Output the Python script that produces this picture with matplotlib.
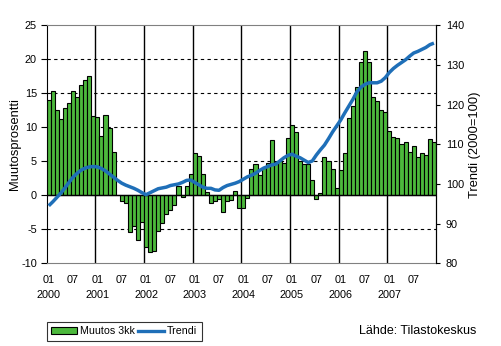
import matplotlib
matplotlib.use('Agg')
import matplotlib.pyplot as plt
from matplotlib.patches import Patch
from matplotlib.lines import Line2D

plt.rcParams['font.family'] = ['Liberation Sans', 'DejaVu Sans']
plt.rcParams['axes.unicode_minus'] = False

years = ['2000', '2001', '2002', '2003', '2004', '2005', '2006', '2007']

# 3 kk muutos, % (monthly, 2000-01 .. 2007-12)
muutos = [
    14.0, 15.4, 12.5, 11.2, 12.8, 13.6, 15.3, 14.4, 16.2, 16.9, 17.5, 11.7,
    11.5, 8.7, 11.8, 9.9, 6.3, 0.1, -0.9, -1.2, -5.4, -4.5, -6.5, -4.0,
    -7.6, -8.4, -8.2, -5.2, -4.1, -2.8, -2.2, -1.5, 1.4, -0.2, 1.4, 3.2,
    6.2, 5.8, 3.1, 0.5, -1.2, -0.8, -0.6, -2.4, -0.8, -0.7, 0.7, -1.9,
    -1.8, -0.4, 3.8, 4.6, 3.0, 4.0, 4.7, 8.1, 4.9, 5.0, 4.8, 8.4,
    10.4, 9.3, 5.0, 4.6, 4.6, 2.2, -0.6, 0.4, 5.6, 5.0, 3.8, 1.0,
    3.7, 6.2, 11.3, 13.2, 15.9, 19.6, 21.2, 19.6, 14.4, 13.8, 12.5, 12.2,
    9.4, 8.5, 8.4, 7.6, 7.9, 6.3, 7.2, 5.7, 6.2, 5.9, 8.3, 7.8,
]

# trendi, 2000=100
trendi = [
    94.5, 95.5, 96.6, 97.7, 99.0, 100.4, 101.7, 102.7, 103.5, 104.0, 104.3, 104.4,
    104.3, 103.9, 103.3, 102.5, 101.7, 100.9, 100.2, 99.7, 99.3, 98.9, 98.4, 97.8,
    97.3, 97.8, 98.3, 98.8, 99.0, 99.2, 99.6, 99.8, 100.0, 100.4, 100.9, 101.0,
    100.4, 99.8, 99.2, 98.9, 98.9, 98.5, 98.4, 99.1, 99.6, 99.9, 100.2, 100.6,
    101.2, 101.8, 102.2, 102.7, 103.4, 104.0, 104.4, 104.8, 105.0, 105.8, 106.6, 107.2,
    107.5, 107.0, 106.6, 106.0, 105.4, 105.8, 107.3, 108.6, 109.8, 111.4, 113.1, 114.6,
    116.1, 117.9, 119.6, 121.3, 123.2, 124.4, 125.1, 125.5, 125.5, 125.5, 125.9, 126.8,
    128.1, 129.1, 129.9, 130.6, 131.3, 132.2, 133.0, 133.4, 133.9, 134.4, 135.1, 135.5,
]

green = '#4cb83c'
blue = '#1f6fb8'

fig = plt.figure(figsize=(5.01, 3.46), dpi=100)
ax = fig.add_axes([0.0932, 0.239, 0.7770, 0.688])

n = len(muutos)
x = [i + 0.5 for i in range(n)]
ax.bar(x, muutos, width=1.0, color=green, edgecolor='black', linewidth=0.8, zorder=2)
ax.set_xlim(0, n)
ax.set_ylim(-10, 25)

for v in [-5, 5, 10, 15, 20]:
    ax.axhline(v, color='black', lw=0.8, ls=(0, (3, 3)), zorder=1)
ax.axhline(0, color='black', lw=1.0, zorder=3)
for k in range(1, len(years)):
    ax.axvline(12 * k, color='black', lw=1.0, zorder=1)

for s in ['top', 'bottom']:
    ax.spines[s].set_color('#808080')
ax.spines['left'].set_color('black')

ax.set_yticks(range(-10, 26, 5))
ax.tick_params(axis='y', direction='out', length=4, width=0.8, labelsize=7.8, pad=3)

xt, xl = [], []
for k, yr in enumerate(years):
    xt += [12 * k + 0.5, 12 * k + 6.5]
    xl += ['01\n' + yr, '07']
ax.set_xticks(xt)
ax.set_xticklabels(xl)
ax.tick_params(axis='x', length=0, pad=8.5, labelsize=7.8)
for lbl in ax.get_xticklabels():
    lbl.set_linespacing(1.6)

ax.set_ylabel('Muutosprosentti', fontsize=9.3)
ax.yaxis.set_label_coords(-0.065, 0.5)

ax2 = ax.twinx()
ax2.plot(x, trendi, color=blue, lw=2.5, solid_capstyle='butt', zorder=4)
ax2.set_ylim(80, 140)
ax2.set_yticks(range(80, 141, 10))
ax2.tick_params(axis='y', direction='out', length=3, width=0.8, labelsize=7.8, pad=4)
ax2.spines['right'].set_color('black')
ax2.spines['top'].set_visible(False)
ax2.spines['bottom'].set_visible(False)
ax2.spines['left'].set_visible(False)
ax2.set_ylabel('Trendi (2000=100)', fontsize=9.3)
ax2.yaxis.set_label_coords(1.085, 0.5)

handles = [Patch(facecolor=green, edgecolor='black', linewidth=0.8),
           Line2D([], [], color=blue, lw=2.4)]
leg = fig.legend(handles, ['Muutos 3kk', 'Trendi'], ncol=2, loc='center',
                 bbox_to_anchor=(0.248, 0.0425), frameon=True, fancybox=False,
                 edgecolor='black', fontsize=7.7, handlelength=2.4, handleheight=0.5,
                 handletextpad=0.3, columnspacing=0.3, borderpad=0.4, borderaxespad=0)
leg.get_frame().set_linewidth(0.8)

fig.text(359 / 501, 1 - 331 / 346, 'Lähde: Tilastokeskus', fontsize=9, va='center')

fig.savefig('out.png', dpi=100)
